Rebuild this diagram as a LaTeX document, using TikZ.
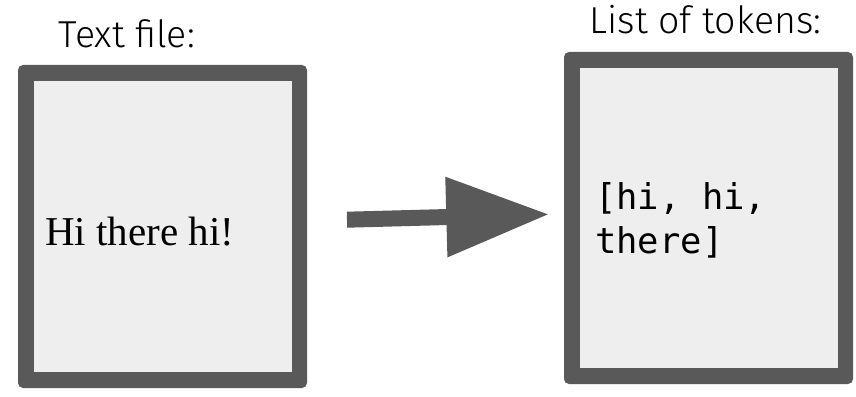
\documentclass[tikz,border=0pt]{standalone}
\usepackage{fontspec}
\usetikzlibrary{arrows.meta}
\setmainfont{Liberation Serif}
\setmonofont{DejaVu Sans Mono}
\newfontfamily\titlefont{Fira Sans}[UprightFont={* Light}]
\definecolor{framegray}{HTML}{595959}
\definecolor{panegray}{HTML}{EEEEEE}

\begin{document}
\begin{tikzpicture}[x=1pt,y=-1pt]
\tikzstyle{frame}=[fill=framegray,rounded corners=5pt,inner sep=0pt,minimum width=289pt];
\tikzstyle{pane}=[fill=panegray,inner sep=0pt,minimum width=258pt];
\tikzstyle{title}=[anchor=base,inner sep=0pt,font=\titlefont\fontsize{37.5}{42}\selectfont];
\tikzstyle{content}=[anchor=base west,inner sep=0pt,align=left];
\useasboundingbox (0,0) rectangle (856,396);
% text file
\node[frame,minimum height=323pt] (srcframe) at (162.5,226.5) {};
\node[pane,minimum height=291pt] (srcpane) at (srcframe.center) {};
\node[title] (srctitle) at (126.7,48) {Text file:};
\node[content,font=\fontsize{41}{48}\selectfont] (srctext) at (45,245) {Hi there hi!};
% list of tokens
\node[frame,minimum height=332pt] (tokframe) at (708.5,218) {};
\node[pane,minimum height=300pt] (tokpane) at (tokframe.center) {};
\node[title] (toktitle) at (705.5,33.5) {List of tokens:};
\node[content,font=\ttfamily\fontsize{35.5}{44}\selectfont] (toktext) at (595,253) {[hi, hi,\\there]};
% arrow
\coordinate (from) at (347,219.7);
\coordinate (to) at (549.3,214.3);
\draw[framegray,line width=16pt,-{Triangle[length=103pt,width=76pt]}] (from) -- (to);
\end{tikzpicture}
\end{document}
